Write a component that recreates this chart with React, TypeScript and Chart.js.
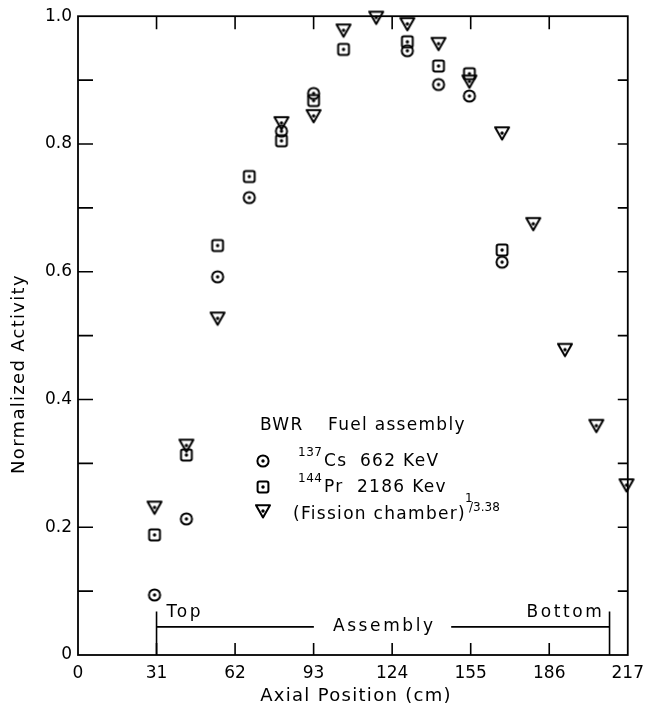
import { useEffect, useRef } from 'react';
import { Chart, registerables } from 'chart.js';

Chart.register(...registerables);

// Axial measurement positions (cm) along the fuel assembly
const positions = [30.2, 42.8, 55.1, 67.6, 80.3, 93.0, 104.8, 117.7, 130.0, 142.3, 154.5, 167.4, 179.7, 192.2, 204.6, 216.5];
// Normalized activities; null where no measurement was plotted
const cs137 = [0.094, 0.213, 0.592, 0.716, 0.82, 0.879, null, null, 0.946, 0.893, 0.875, 0.615, null, null, null, null];
const pr144 = [0.188, 0.313, 0.641, 0.749, 0.805, 0.868, 0.948, null, 0.96, 0.922, 0.91, 0.634, null, null, null, null];
const fission = [0.231, 0.328, 0.527, null, 0.833, 0.844, 0.978, 0.998, 0.988, 0.957, 0.898, 0.817, 0.675, 0.478, 0.359, 0.266];

const xTickValues = [0, 31, 62, 93, 124, 155, 186, 217];
const xInnerTicks = [31, 62, 93, 124, 155, 186];
const yLabelValues = [0, 0.2, 0.4, 0.6, 0.8, 1.0];
const yInnerTicks = [0.1, 0.2, 0.3, 0.4, 0.5, 0.6, 0.7, 0.8, 0.9];

// Assembly extent along the axis (cm)
const assemblyTop = 31;
const assemblyBottom = 209.8;

const FAMILY = '"DejaVu Sans", sans-serif';
const INK = '#000';

type Kind = 'circle' | 'square' | 'triangle';

function makeMarker(kind: Kind): HTMLCanvasElement {
  const c = document.createElement('canvas');
  c.width = 20;
  c.height = 20;
  const g = c.getContext('2d')!;
  const m = 10;
  g.strokeStyle = INK;
  g.fillStyle = INK;
  g.lineWidth = 2;
  g.lineJoin = 'round';
  g.beginPath();
  if (kind === 'circle') {
    g.arc(m, m, 5.6, 0, Math.PI * 2);
  } else if (kind === 'square') {
    g.roundRect(m - 5.4, m - 5.4, 10.8, 10.8, 1.8);
  } else {
    g.moveTo(m - 7, m - 5.8);
    g.lineTo(m + 7, m - 5.8);
    g.lineTo(m, m + 6.4);
    g.closePath();
  }
  g.stroke();
  g.beginPath();
  g.arc(m, m, 1.7, 0, Math.PI * 2);
  g.fill();
  return c;
}

function toPoints(values: (number | null)[]) {
  const pts: { x: number; y: number }[] = [];
  values.forEach((v, i) => {
    if (v !== null) pts.push({ x: positions[i], y: v });
  });
  return pts;
}

export default function App() {
  const ref = useRef<HTMLCanvasElement>(null);

  useEffect(() => {
    const canvas = ref.current;
    if (!canvas) return;

    const markers = {
      circle: makeMarker('circle'),
      square: makeMarker('square'),
      triangle: makeMarker('triangle'),
    };

    const decorations = {
      id: 'decorations',
      beforeDatasetsDraw(chart: Chart) {
        const { ctx, chartArea: a } = chart;
        const x = chart.scales.x;
        const y = chart.scales.y;
        ctx.save();
        ctx.strokeStyle = INK;
        ctx.fillStyle = INK;

        // frame
        ctx.lineWidth = 1.8;
        ctx.strokeRect(a.left, a.top, a.right - a.left, a.bottom - a.top);

        // inward tick marks on all four sides
        ctx.lineWidth = 1.6;
        ctx.beginPath();
        for (const v of xInnerTicks) {
          const px = x.getPixelForValue(v);
          ctx.moveTo(px, a.bottom);
          ctx.lineTo(px, a.bottom - 12);
          ctx.moveTo(px, a.top);
          ctx.lineTo(px, a.top + 13);
        }
        for (const v of yInnerTicks) {
          const py = y.getPixelForValue(v);
          ctx.moveTo(a.left, py);
          ctx.lineTo(a.left + 15, py);
          ctx.moveTo(a.right, py);
          ctx.lineTo(a.right - 10, py);
        }
        ctx.stroke();

        // assembly extent bar
        const xTop = x.getPixelForValue(assemblyTop);
        const xBot = x.getPixelForValue(assemblyBottom);
        const yBar = y.getPixelForValue(0.044);
        const yCap = y.getPixelForValue(0.068);
        const yBase = y.getPixelForValue(0);
        ctx.lineWidth = 1.6;
        ctx.beginPath();
        ctx.moveTo(xTop, yBase);
        ctx.lineTo(xTop, yCap);
        ctx.moveTo(xTop, yBar);
        ctx.lineTo(x.getPixelForValue(93.1), yBar);
        ctx.moveTo(x.getPixelForValue(147.3), yBar);
        ctx.lineTo(xBot, yBar);
        ctx.moveTo(xBot, yBase);
        ctx.lineTo(xBot, yCap);
        ctx.stroke();

        ctx.font = `17px ${FAMILY}`;
        (ctx as any).letterSpacing = '2.6px';
        ctx.textBaseline = 'middle';
        ctx.textAlign = 'left';
        ctx.fillText('Top', xTop + 10, y.getPixelForValue(0.066));
        ctx.textAlign = 'center';
        ctx.fillText('Assembly', x.getPixelForValue(120.9), yBar);
        ctx.textAlign = 'left';
        ctx.fillText('Bottom', xBot - 83, y.getPixelForValue(0.067));

        // legend
        (ctx as any).letterSpacing = '1.3px';
        ctx.font = `17px ${FAMILY}`;
        ctx.fillText('BWR', 260, 426);
        ctx.fillText('Fuel assembly', 328, 426);

        ctx.drawImage(markers.circle, 263 - 10, 461 - 10);
        ctx.font = `12px ${FAMILY}`;
        (ctx as any).letterSpacing = '0.5px';
        ctx.fillText('137', 298, 453);
        ctx.font = `17px ${FAMILY}`;
        (ctx as any).letterSpacing = '1.3px';
        ctx.fillText('Cs', 324, 462);
        ctx.fillText('662 KeV', 360, 462);

        ctx.drawImage(markers.square, 263 - 10, 487 - 10);
        ctx.font = `12px ${FAMILY}`;
        (ctx as any).letterSpacing = '0.5px';
        ctx.fillText('144', 298, 479);
        ctx.font = `17px ${FAMILY}`;
        (ctx as any).letterSpacing = '1.3px';
        ctx.fillText('Pr', 324, 488);
        ctx.fillText('2186 Kev', 357, 488);

        ctx.drawImage(markers.triangle, 263 - 10, 511 - 10);
        ctx.fillText('(Fission chamber)', 293, 515);
        ctx.font = `12px ${FAMILY}`;
        (ctx as any).letterSpacing = '0px';
        ctx.fillText('1', 465, 499);
        ctx.fillText('/3.38', 469, 508);

        // axis titles
        ctx.font = `18px ${FAMILY}`;
        (ctx as any).letterSpacing = '1.3px';
        ctx.textAlign = 'center';
        ctx.fillText('Axial Position (cm)', 356, 696);
        ctx.translate(19, 374);
        ctx.rotate(-Math.PI / 2);
        ctx.fillText('Normalized Activity', 0, 0);
        ctx.restore();
      },
    };

    const chart = new Chart(canvas, {
      type: 'scatter',
      data: {
        datasets: [
          { label: '137Cs 662 KeV', data: toPoints(cs137), pointStyle: markers.circle as any, pointRadius: 7, clip: false as any },
          { label: '144Pr 2186 Kev', data: toPoints(pr144), pointStyle: markers.square as any, pointRadius: 7, clip: false as any },
          { label: '(Fission chamber)^1/3.38', data: toPoints(fission), pointStyle: markers.triangle as any, pointRadius: 7, clip: false as any },
        ],
      },
      options: {
        responsive: false,
        animation: false,
        devicePixelRatio: 1,
        layout: { padding: { top: 15, right: 14, left: 0, bottom: 0 } },
        plugins: { legend: { display: false }, tooltip: { enabled: false } },
        scales: {
          x: {
            type: 'linear',
            min: 0,
            max: 217,
            afterBuildTicks: (s: any) => {
              s.ticks = xTickValues.map((v) => ({ value: v }));
            },
            afterFit: (s: any) => {
              s.height = 59;
            },
            grid: { display: false, drawTicks: false },
            border: { display: false },
            ticks: {
              color: INK,
              font: { family: FAMILY, size: 17 },
              padding: 8,
              autoSkip: false,
              maxRotation: 0,
              callback: (v: any) => String(v),
            },
          },
          y: {
            type: 'linear',
            min: 0,
            max: 1,
            afterBuildTicks: (s: any) => {
              s.ticks = yLabelValues.map((v) => ({ value: v }));
            },
            afterFit: (s: any) => {
              s.width = 78;
            },
            grid: { display: false, drawTicks: false },
            border: { display: false },
            ticks: {
              color: INK,
              font: { family: FAMILY, size: 17 },
              padding: 6,
              callback: (v: any) => (v === 0 ? '0' : Number(v).toFixed(1)),
            },
          },
        },
      },
      plugins: [decorations],
    });

    return () => chart.destroy();
  }, []);

  return (
    <div style={{ position: 'absolute', left: 0, top: 0, width: 652, height: 714, background: '#fff' }}>
      <canvas ref={ref} width={652} height={714} style={{ display: 'block' }} />
    </div>
  );
}
